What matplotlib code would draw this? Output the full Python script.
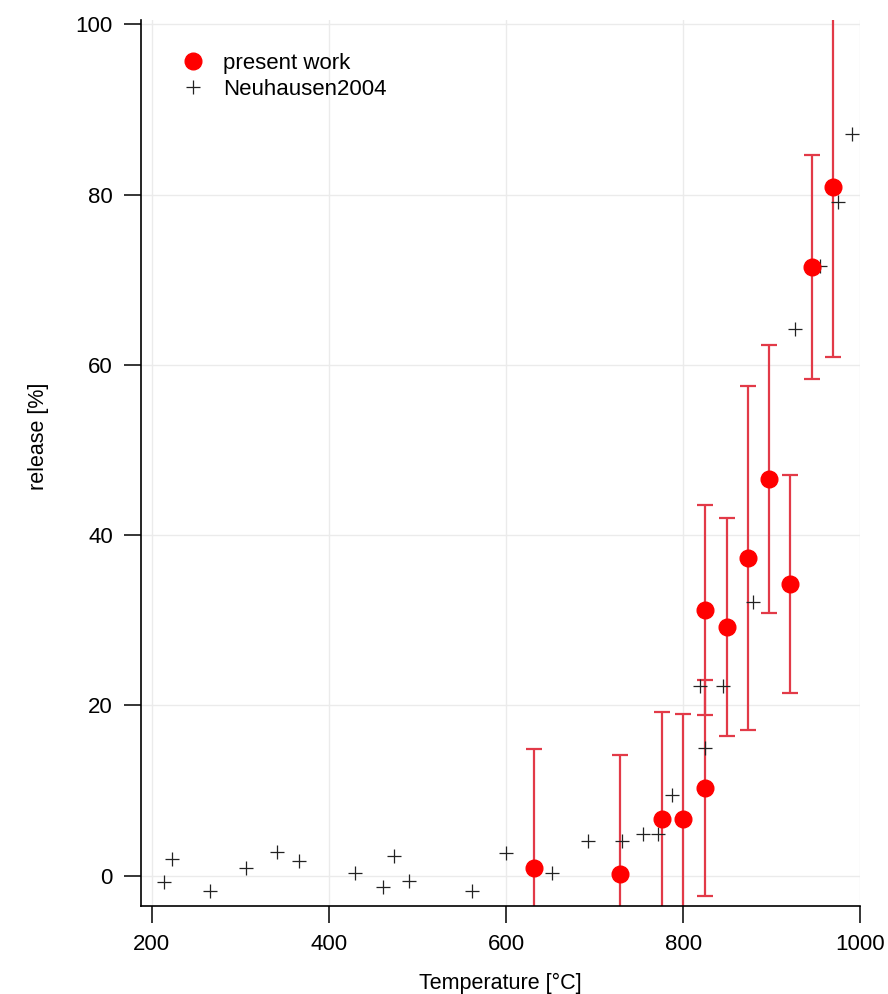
import matplotlib
matplotlib.use("Agg")
import matplotlib.pyplot as plt

plt.rcParams["font.family"] = ["Liberation Sans", "DejaVu Sans"]

# present work: release vs temperature with symmetric error bars
temp_present = [631, 729, 776, 800, 825, 825, 849, 873, 897, 921, 945, 969]
release_present = [0.9, 0.2, 6.6, 6.6, 10.3, 31.2, 29.2, 37.3, 46.6, 34.3, 71.5, 80.9]
release_err = [14.0, 14.0, 12.6, 12.4, 12.7, 12.3, 12.8, 20.2, 15.7, 12.8, 13.2, 20.0]

# literature data (Neuhausen 2004)
temp_neuhausen = [214, 223, 266, 306, 341, 366, 430, 461, 474, 491, 562, 600,
                  652, 693, 731, 755, 772, 787, 819, 825, 845, 879, 926, 954,
                  975, 991]
release_neuhausen = [-0.8, 1.9, -1.8, 0.85, 2.8, 1.7, 0.3, -1.3, 2.3, -0.6, -1.8, 2.6,
                     0.3, 4.1, 4.05, 4.85, 4.85, 9.5, 22.3, 15.0, 22.3, 32.1, 64.2, 71.6,
                     79.2, 87.1]

x_ticks = [200, 400, 600, 800, 1000]
y_ticks = [0, 20, 40, 60, 80, 100]

fig = plt.figure(figsize=(8.88, 9.94), dpi=100)
ax = fig.add_axes([0.1584, 0.0885, 0.8106, 0.8914])

ax.errorbar(temp_present, release_present, yerr=release_err, fmt="none",
            ecolor="#e23a48", elinewidth=1.6, capsize=6, capthick=1.6, zorder=2)
ax.plot(temp_neuhausen, release_neuhausen, "+", color="#222222", ms=10.5, mew=0.9,
        zorder=3, label="Neuhausen2004")
ax.plot(temp_present, release_present, "o", color="#ff0000", mec="#ff0000", ms=12,
        zorder=4, label="present work")

ax.set_xlim(187.6, 1000)
ax.set_ylim(-3.58, 100.53)
ax.set_xticks(x_ticks)
ax.set_yticks(y_ticks)
ax.grid(True, color="#ebebeb", lw=1)
ax.set_axisbelow(True)

for side in ["top", "right"]:
    ax.spines[side].set_visible(False)
for side in ["left", "bottom"]:
    ax.spines[side].set_linewidth(1.2)

ax.tick_params(direction="out", length=12, width=1.1, pad=8, labelsize=16)
ax.set_xlabel("Temperature [°C]", fontsize=15.5)
ax.set_ylabel("release [%]", fontsize=15.5)
ax.xaxis.set_label_coords(0.5, -0.075)
ax.yaxis.set_label_coords(-0.128, 0.53)

handles, labels = ax.get_legend_handles_labels()
ax.legend(handles[::-1], labels[::-1], loc="upper left", bbox_to_anchor=(0.027, 0.985),
          frameon=False, fontsize=16, handletextpad=0.75, labelspacing=0.2,
          handlelength=1.2)

fig.savefig("out.png", dpi=100)
